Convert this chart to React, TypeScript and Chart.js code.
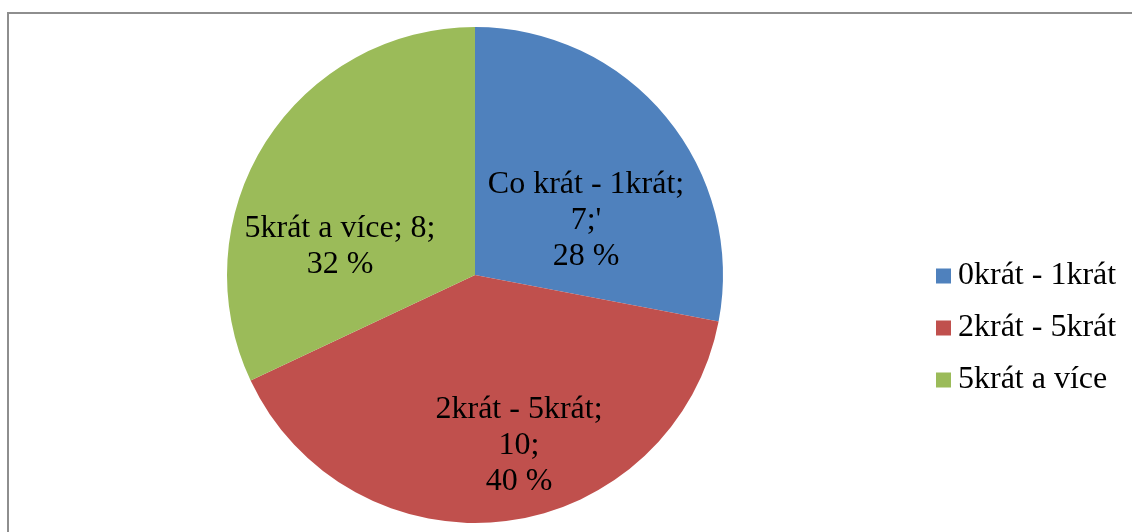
import React, { useEffect, useRef } from "react";
import { Chart, registerables } from "chart.js";

Chart.register(...registerables);

const categories = ["0krát - 1krát", "2krát - 5krát", "5krát a více"];
const values = [7, 10, 8];
const colors = ["#4F81BD", "#C0504D", "#9BBB59"];
const labelLines = [
  ["Co krát - 1krát;", "7;'", "28 %"],
  ["2krát - 5krát;", "10;", "40 %"],
  ["5krát a více; 8;", "32 %"],
];
// label anchor offsets, in units of the pie radius
const labelOffsets = [
  [0.4476, -0.2177],
  [0.1774, 0.6895],
  [-0.5444, -0.1129],
];

const FONT = '32px "Liberation Serif", "Times New Roman", serif';

const sliceLabels = {
  id: "sliceLabels",
  afterDatasetsDraw(chart: any) {
    const ctx = chart.ctx;
    const meta = chart.getDatasetMeta(0);
    ctx.save();
    ctx.font = FONT;
    ctx.fillStyle = "#000";
    ctx.textAlign = "center";
    ctx.textBaseline = "middle";
    const lh = 36;
    meta.data.forEach((arc: any, i: number) => {
      const p = arc.getProps(["x", "y", "outerRadius"], true);
      const cx = p.x + labelOffsets[i][0] * p.outerRadius;
      const cy = p.y + labelOffsets[i][1] * p.outerRadius;
      const lines = labelLines[i];
      const n = lines.length;
      lines.forEach((t, j) => {
        ctx.fillText(t, cx, cy + (j - (n - 1) / 2) * lh);
      });
    });
    ctx.restore();
  },
};

const customLegend = {
  id: "customLegend",
  afterDraw(chart: any) {
    const ctx = chart.ctx;
    const labels = chart.data.labels as string[];
    const bg = chart.data.datasets[0].backgroundColor as string[];
    ctx.save();
    ctx.font = FONT;
    ctx.textAlign = "left";
    ctx.textBaseline = "middle";
    const boxX = 936;
    const top = 276;
    const gap = 52;
    const box = 15;
    labels.forEach((l, i) => {
      const y = top + i * gap;
      ctx.fillStyle = bg[i];
      ctx.fillRect(boxX, y - box / 2, box, box);
      ctx.fillStyle = "#000";
      ctx.fillText(l, boxX + 22, y);
    });
    ctx.restore();
  },
};

export default function App() {
  const ref = useRef<HTMLCanvasElement>(null);
  useEffect(() => {
    if (!ref.current) return;
    const chart = new Chart(ref.current, {
      type: "pie",
      data: {
        labels: categories,
        datasets: [
          {
            data: values,
            backgroundColor: colors,
            borderWidth: 0,
          },
        ],
      },
      options: {
        responsive: false,
        animation: false,
        layout: { padding: { left: 227, right: 409, top: 27, bottom: 9 } },
        plugins: {
          legend: { display: false },
          tooltip: { enabled: false },
        },
      },
      plugins: [sliceLabels, customLegend],
    });
    return () => chart.destroy();
  }, []);
  return (
    <>
      <div
        style={{
          position: "fixed",
          left: 7,
          top: 12,
          width: 1125,
          height: 520,
          borderLeft: "2px solid #8e8e8e",
          borderTop: "2px solid #8e8e8e",
          boxSizing: "border-box",
        }}
      />
      <canvas
        ref={ref}
        width={1132}
        height={532}
        style={{ position: "fixed", left: 0, top: 0, width: 1132, height: 532 }}
      />
    </>
  );
}
